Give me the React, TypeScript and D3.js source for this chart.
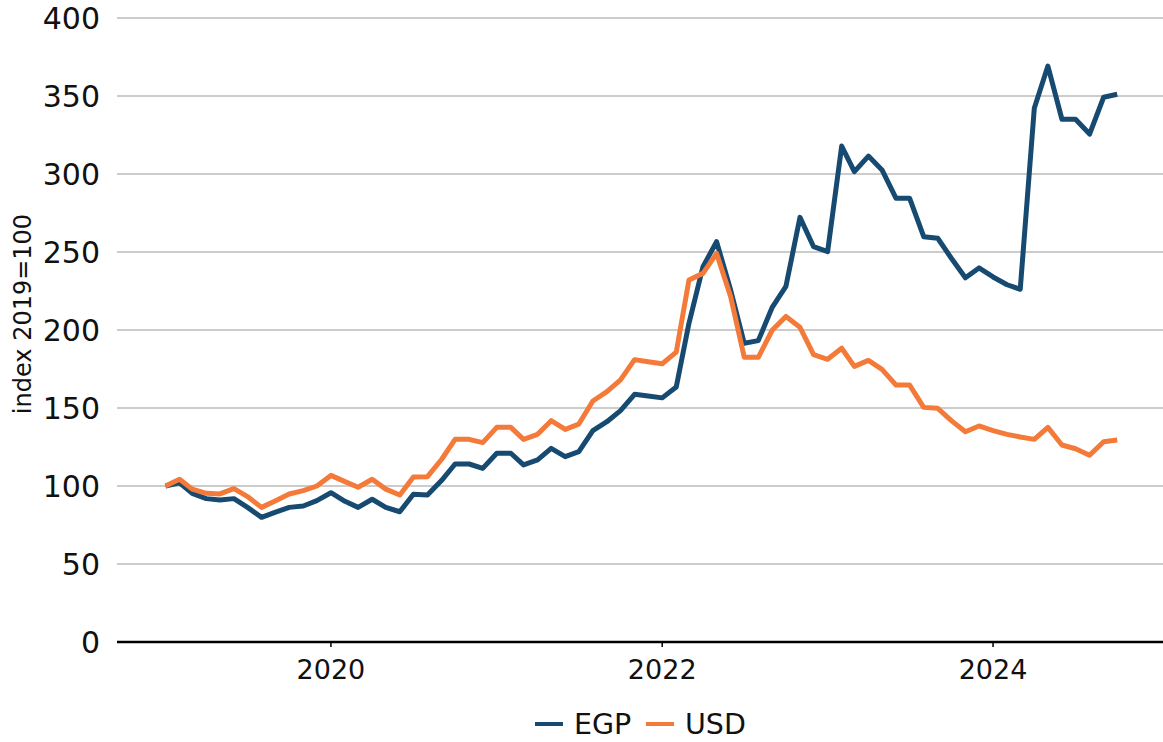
import React, { useEffect } from "react";
import * as d3 from "d3";

// monthly index, Jan 2019 = 100
const egp = [
  100, 102, 95.3, 91.9, 91, 91.9, 86.3, 79.9, 83.3, 86.3, 87.2, 90.6,
  95.7, 90.2, 86.3, 91.5, 86.3, 83.5, 94.7, 94.2, 103.5, 114.1, 114.1, 111.3,
  121, 121, 113.5, 116.7, 124.1, 118.8, 122, 135.5, 141.2, 148.3, 158.8, 157.7,
  156.5, 163.5, 204.3, 240.6, 256.6, 225.6, 191.5, 193.2, 214.7, 228, 272.2, 253.4,
  250.2, 317.9, 301.5, 311.5, 302.6, 284.4, 284.4, 259.8, 258.8, 246, 233.5, 239.8,
  234, 229, 226.1, 342.1, 369.2, 335.1, 335.1, 325.6, 349.2, 351.1,
];
const usd = [
  100, 104.3, 98, 95.3, 94.9, 98.3, 93.2, 86.3, 90.6, 94.9, 97, 100,
  106.8, 102.8, 99.2, 104.3, 98, 94.2, 105.8, 106, 117, 129.9, 129.9, 127.8,
  137.6, 137.6, 129.9, 133.1, 141.9, 136.3, 139.7, 154.5, 160.5, 168, 181, 179.7,
  178.4, 185.8, 232, 236.3, 249.1, 221.4, 182.5, 182.5, 200, 208.7, 201.7, 184.2,
  181.2, 188.3, 176.7, 180.5, 174.8, 164.7, 164.7, 150.4, 149.8, 141.9, 134.8, 138.5,
  135.5, 133.1, 131.4, 129.9, 137.6, 126.3, 123.9, 119.7, 128.4, 129.5,
];
const months = d3.timeMonth.range(new Date(2019, 0, 1), new Date(2024, 10, 1));
const yTicks = [0, 50, 100, 150, 200, 250, 300, 350, 400];
const xTicks = [2020, 2022, 2024];

const series = [
  { name: "EGP", values: egp, color: "#174a71" },
  { name: "USD", values: usd, color: "#f47a3a" },
];

const W = 1163;
const H = 742;
const FONT = "'DejaVu Sans', sans-serif";

export default function App() {
  useEffect(() => {
    document.body.style.margin = "0";
  }, []);

  const x = d3
    .scaleTime()
    .domain([new Date(2018, 8, 16), new Date(2025, 0, 10)])
    .range([117, W]);
  const y = d3.scaleLinear().domain([0, 400]).range([642, 18]);

  const line = d3
    .line<number>()
    .x((_, i) => x(months[i]))
    .y((d) => y(d));

  return (
    <svg width={W} height={H} style={{ display: "block", background: "#fff" }} fontFamily={FONT}>
      {/* grid + y labels */}
      {yTicks.map((t) => (
        <g key={t}>
          {t > 0 && (
            <line x1={117} x2={W} y1={y(t)} y2={y(t)} stroke="#cccccc" strokeWidth={2} />
          )}
          <text x={100} y={y(t)} dy={11} textAnchor="end" fontSize={30} fill="#111">
            {t}
          </text>
        </g>
      ))}
      <text
        transform={`translate(31,314) rotate(-90)`}
        textAnchor="middle"
        fontSize={24}
        fill="#111"
      >
        index 2019=100
      </text>

      {/* lines */}
      {series.map((s) => (
        <path
          key={s.name}
          d={line(s.values) ?? ""}
          fill="none"
          stroke={s.color}
          strokeWidth={5}
          strokeLinejoin="round"
        />
      ))}

      {/* x axis */}
      <line x1={117} x2={W} y1={y(0)} y2={y(0)} stroke="#000" strokeWidth={2.5} />
      {xTicks.map((yr) => {
        const px = x(new Date(yr, 0, 1));
        return (
          <g key={yr}>
            <line x1={px} x2={px} y1={y(0)} y2={y(0) + 5} stroke="#000" strokeWidth={1.5} />
            <text x={px} y={679} textAnchor="middle" fontSize={27} fill="#111">
              {yr}
            </text>
          </g>
        );
      })}

      {/* legend */}
      <g>
        <line x1={535} x2={563} y1={724} y2={724} stroke={series[0].color} strokeWidth={4} />
        <text x={574} y={734} fontSize={28.5} fill="#111">
          {series[0].name}
        </text>
        <line x1={646} x2={674} y1={724} y2={724} stroke={series[1].color} strokeWidth={4} />
        <text x={685} y={734} fontSize={28.5} fill="#111">
          {series[1].name}
        </text>
      </g>
    </svg>
  );
}
